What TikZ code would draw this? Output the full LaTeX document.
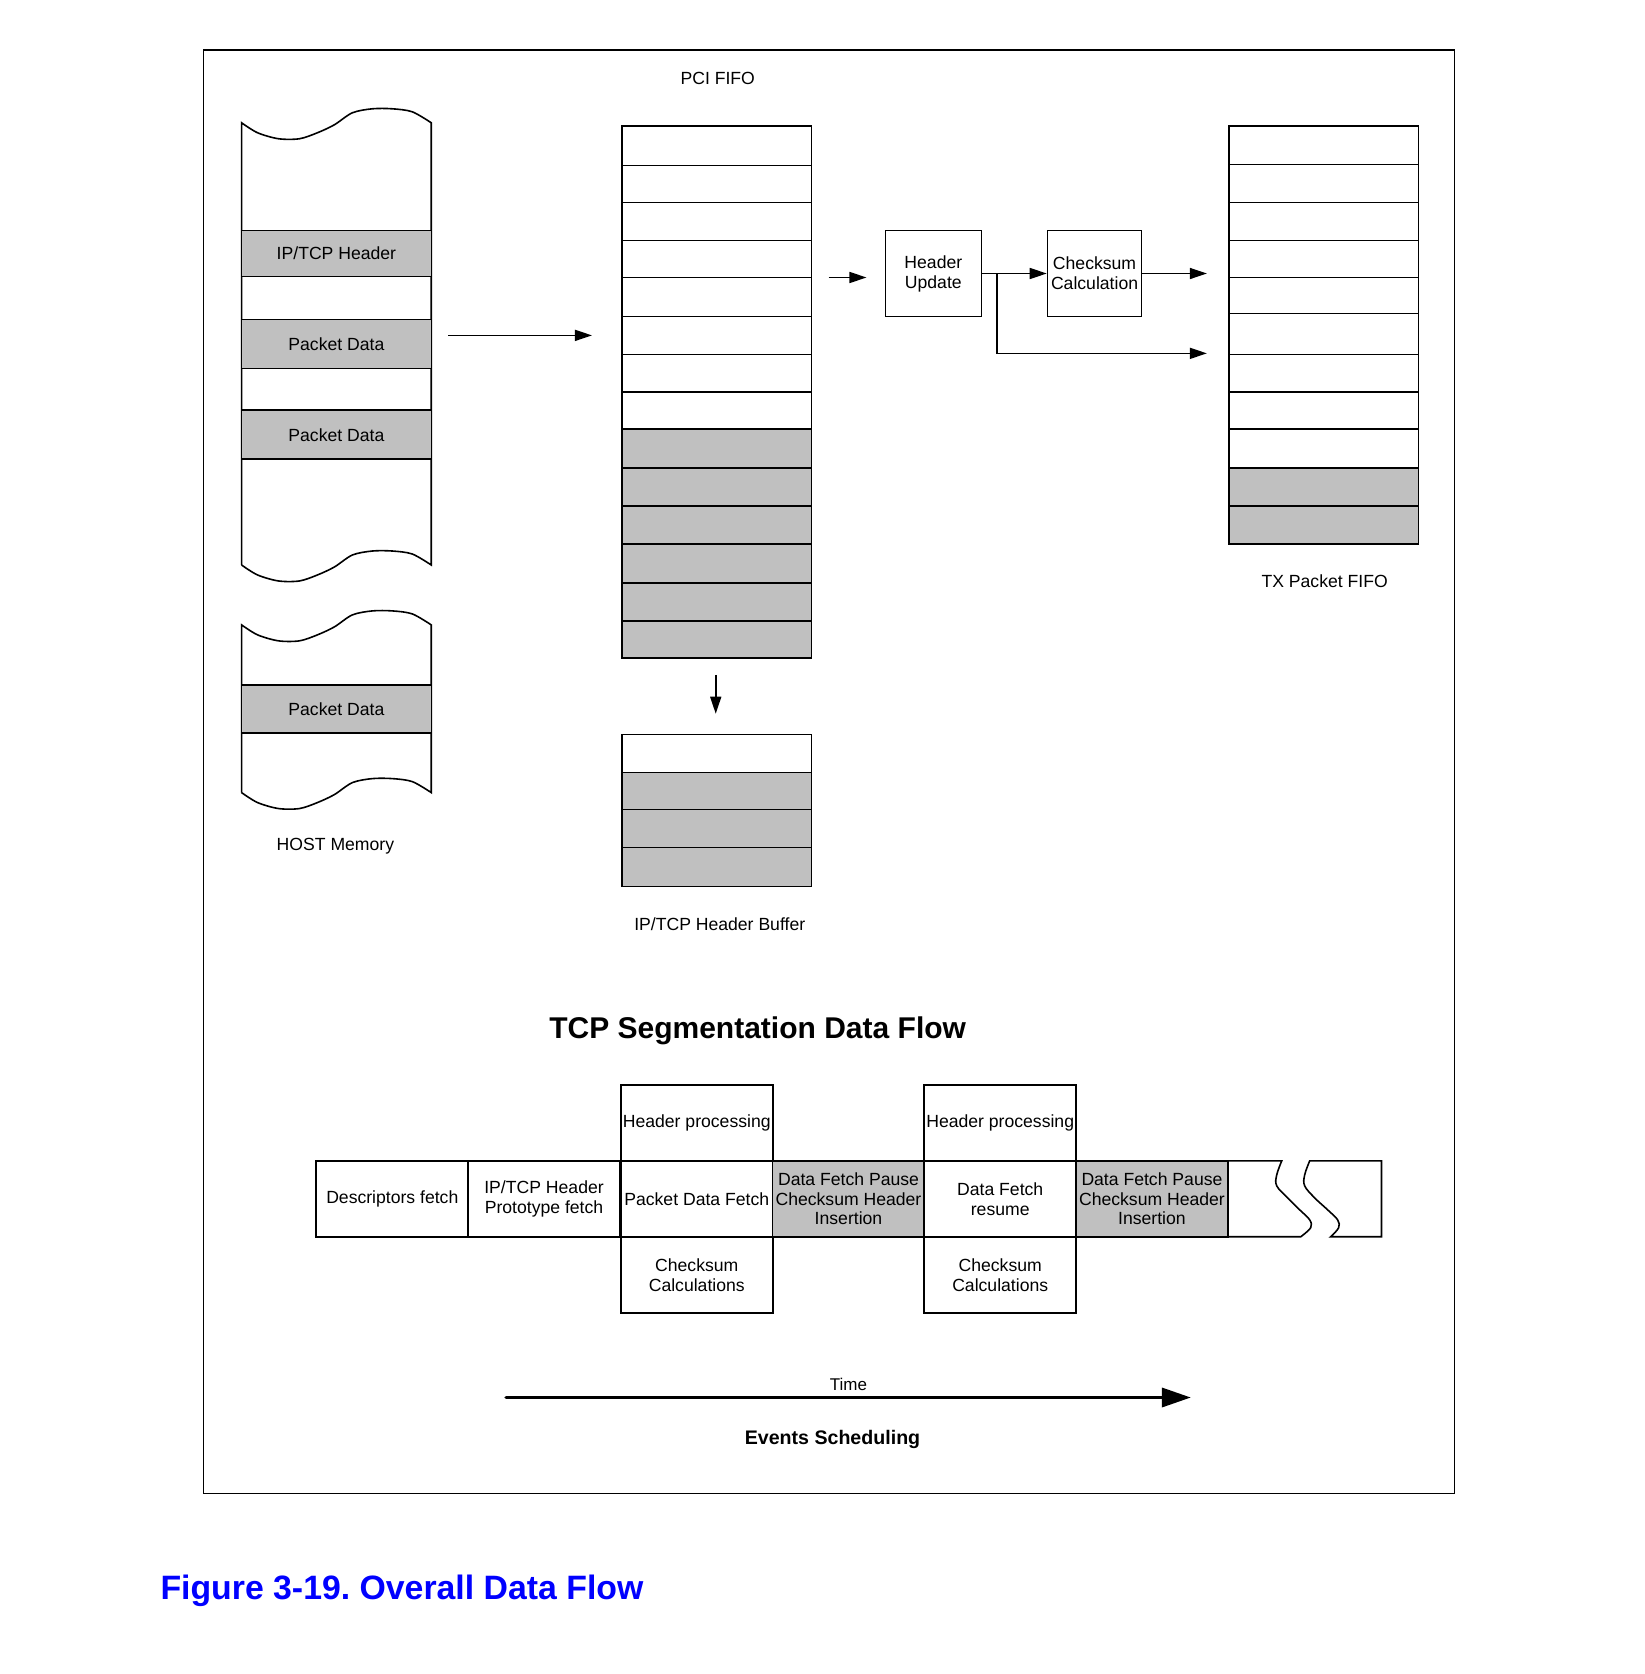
\documentclass[tikz,border=0pt]{standalone}
\usepackage{fontspec}
\setmainfont{Liberation Sans}
\usetikzlibrary{arrows.meta}
\definecolor{cellgray}{RGB}{192,192,192}
\definecolor{figblue}{RGB}{0,0,255}
\tikzset{
	lbl/.style={font=\fontsize{8.8}{10}\selectfont, inner sep=0pt, align=center},
	band/.style={lbl, draw, fill=cellgray, minimum width=95pt},
	cell/.style={lbl, draw, minimum width=76pt, minimum height=38pt},
	graycell/.style={cell, fill=cellgray, font=\fontsize{8.8}{9.6}\selectfont},
	proc/.style={lbl, draw, minimum height=43pt},
	arr/.style={-{Triangle[length=8.5pt,width=5.5pt]}}
}
\begin{document}
\begin{tikzpicture}[x=0.499pt, y=-0.499pt, line width=0.8pt]
		\useasboundingbox (0,0) rectangle (1647,1677);
		\draw (204,50) rectangle (1457,1496);
		
		\draw (242,566) -- plot [smooth, tension=0.5] coordinates {(242,123) (258,133) (279,139) (300,139) (318,133) (335,125) (353,113) (373,109) (393,109) (413,112) (432,123)} -- plot [smooth, tension=0.5] coordinates {(432,566) (413,555) (393,552) (373,552) (353,556) (335,568) (318,576) (300,582) (279,582) (258,576) (242,566)};
		\node[band, minimum height=23pt] (hdr) at (337,254) {IP/TCP Header};
		\node[band, minimum height=24.5pt] (data1) at (337,344.5) {Packet Data};
		\node[band, minimum height=24.5pt] (data2) at (337,435.5) {Packet Data};
		
		\draw (242,794) -- plot [smooth, tension=0.5] coordinates {(242,626) (258,636) (279,642) (300,642) (318,636) (335,628) (353,616) (373,612) (393,612) (413,615) (432,626)} -- plot [smooth, tension=0.5] coordinates {(432,794) (413,783) (393,780) (373,780) (353,784) (335,796) (318,804) (300,810) (279,810) (258,804) (242,794)};
		\node[band, minimum height=24pt] (data3) at (337,710) {Packet Data};
		\node[lbl] (hostlbl) at (336,848) {HOST Memory};
		
		\node[lbl] (pcilbl) at (719,79) {PCI FIFO};
		\filldraw[fill=cellgray] (623,430) rectangle (813,659);
		\draw (623,126) rectangle (813,659);
		\draw (623,166) -- (813,166) (623,203) -- (813,203) (623,241) -- (813,241) (623,278) -- (813,278) (623,317) -- (813,317) (623,355) -- (813,355) (623,393) -- (813,393) (623,469) -- (813,469) (623,507) -- (813,507) (623,545) -- (813,545) (623,584) -- (813,584) (623,622) -- (813,622);
		
		\filldraw[fill=cellgray] (623,774) rectangle (813,888);
		\draw (623,736) rectangle (813,888);
		\draw (623,811) -- (813,811) (623,849) -- (813,849);
		\node[lbl] (buflbl) at (721,926) {IP/TCP Header Buffer};
		
		\filldraw[fill=cellgray] (1231,469) rectangle (1421,545);
		\draw (1231,126) rectangle (1421,545);
		\draw (1231,165) -- (1421,165) (1231,203) -- (1421,203) (1231,241) -- (1421,241) (1231,278) -- (1421,278) (1231,314) -- (1421,314) (1231,355) -- (1421,355) (1231,393) -- (1421,393) (1231,430) -- (1421,430) (1231,507) -- (1421,507);
		\node[lbl] (txlbl) at (1327,582) {TX Packet FIFO};
		
		\coordinate (hostout) at (449,336);
		\coordinate (pciin) at (593,336);
		\draw[arr] (hostout) -- (pciin);
		\coordinate (pciout) at (830,278);
		\coordinate (updin) at (868,278);
		\draw[arr] (pciout) -- (updin);
		\coordinate (pcibot) at (717,676);
		\coordinate (bufin) at (717,715);
		\draw[arr] (pcibot) -- (bufin);
		
		\node[proc, minimum width=48pt] (hdrupd) at (935,274) {Header\\Update};
		\node[proc, minimum width=47pt] (cksum) at (1096.5,274) {Checksum\\Calculation};
		\draw[arr] (hdrupd) -- (cksum);
		\coordinate (split) at (999,274);
		\coordinate (txhigh) at (1209,274);
		\coordinate (txlow) at (1209,354);
		\draw[arr] (cksum) -- (txhigh);
		\draw[arr] (split) |- (txlow);
		
		\node[font=\bfseries\fontsize{15}{18}\selectfont, anchor=base] (title) at (759,1040) {TCP Segmentation Data Flow};
		
		\node[cell] (desc) at (393,1201) {Descriptors fetch};
		\node[cell] (proto) at (545,1201) {IP/TCP Header\\Prototype fetch};
		\node[cell] (hproc1) at (698,1125) {Header processing};
		\node[cell] (fetch) at (698,1201) {Packet Data Fetch};
		\node[cell] (csum1) at (698,1277) {Checksum\\Calculations};
		\node[graycell] (pause1) at (850,1201) {Data Fetch Pause\\Checksum Header\\Insertion};
		\node[cell] (hproc2) at (1002,1125) {Header processing};
		\node[cell] (resume) at (1002,1201) {Data Fetch\\resume};
		\node[cell] (csum2) at (1002,1277) {Checksum\\Calculations};
		\node[graycell] (pause2) at (1154,1201) {Data Fetch Pause\\Checksum Header\\Insertion};
		\draw (1230,1163) -- plot [smooth, tension=0.6] coordinates {(1284,1163) (1279,1177) (1279,1188) (1290,1200) (1302,1212) (1312,1222) (1313,1230) (1303,1239)} -- (1230,1239);
		\draw plot [smooth, tension=0.6] coordinates {(1333,1239) (1341,1230) (1340,1222) (1330,1212) (1317,1200) (1307,1188) (1307,1177) (1312,1163)} -- (1384,1163) -- (1384,1239) -- cycle;
		
		\coordinate (tstart) at (507,1400);
		\coordinate (tend) at (1193,1400);
		\draw[line width=1.75pt, line cap=round, -{Triangle[length=14.5pt,width=9.5pt]}] (tstart) -- (tend);
		\node[lbl, font=\fontsize{8.5}{10}\selectfont] (time) at (850,1387) {Time};
		\node[font=\bfseries\fontsize{9.8}{11}\selectfont, anchor=base] (events) at (834,1447) {Events Scheduling};
		
		\node[font=\bfseries\fontsize{16.9}{20}\selectfont, text=figblue, anchor=base west, inner sep=0pt] (caption) at (160,1602) {Figure 3-19.\ Overall Data Flow};
		
	\end{tikzpicture}
\end{document}
